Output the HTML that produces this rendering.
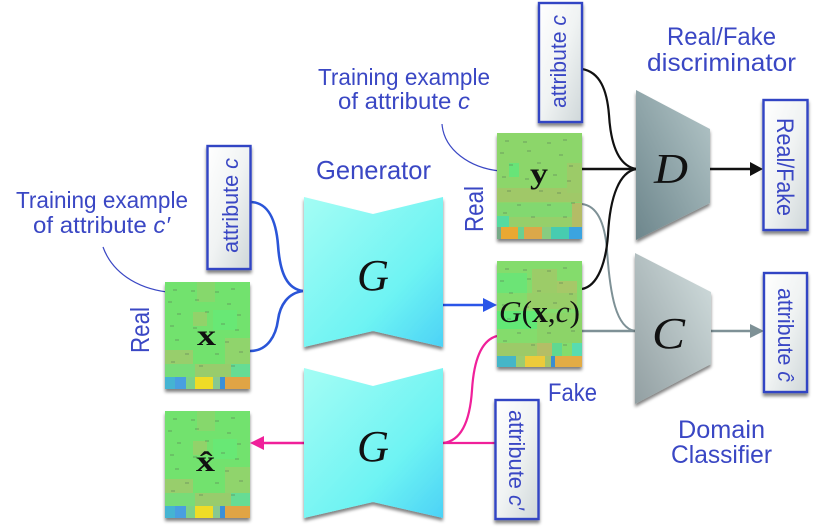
<!DOCTYPE html>
<html><head><meta charset="utf-8">
<style>
html,body{margin:0;padding:0;background:#fff;overflow:hidden}
svg{display:block;width:814px;height:530px;filter:blur(.35px)}
text{font-family:"Liberation Sans",sans-serif;fill:#3a47c4}
.t{font-size:23px}
.m{font-family:"Liberation Serif",serif;font-style:italic;fill:#111}
.b{font-family:"Liberation Serif",serif;font-weight:bold;fill:#111}
.r{font-size:22px}
</style></head><body>
<svg xmlns="http://www.w3.org/2000/svg" width="814" height="530" viewBox="0 0 814 530">
<defs>
<linearGradient id="gg" x1="0" y1="0" x2="1" y2="1"><stop offset="0" stop-color="#a4fdf4"/><stop offset=".65" stop-color="#6df3f3"/><stop offset="1" stop-color="#4cd2f6"/></linearGradient>
<linearGradient id="gd" x1="0" y1="1" x2="1" y2="0"><stop offset="0" stop-color="#6d868c"/><stop offset="1" stop-color="#b5c7c9"/></linearGradient>
<linearGradient id="gc" x1="0" y1="1" x2="1" y2="0"><stop offset="0" stop-color="#929fa2"/><stop offset="1" stop-color="#d3dfdf"/></linearGradient>
<linearGradient id="gb" x1="0" y1="0" x2="1" y2="1"><stop offset="0" stop-color="#fff"/><stop offset=".5" stop-color="#f0f3f3"/><stop offset="1" stop-color="#cfd7d9"/></linearGradient>
<filter id="s" x="-10%" y="-10%" width="120%" height="120%"><feGaussianBlur in="SourceAlpha" stdDeviation="1.6"/><feOffset dy="3"/><feComponentTransfer><feFuncA type="linear" slope=".5"/></feComponentTransfer><feMerge><feMergeNode/><feMergeNode in="SourceGraphic"/></feMerge></filter>
<g id="dash" stroke="#5a7a55" stroke-width="1" opacity=".6">
<path d="M8 8h4M26 9h4M50 10h4M66 7h4M3 20h4M30 18h4M62 22h4M12 32h4M40 30h4M72 33h4M5 44h4M28 46h4M56 42h4M70 48h4M10 58h4M42 58h4M60 60h4M20 72h4M50 72h4M74 70h4M6 80h4M34 84h4M66 84h4"/>
</g>
<g id="hx">
<rect width="85" height="107" fill="#72e26e"/>
<rect x="32" y="0" width="18" height="20" fill="#86d86c"/>
<rect x="28" y="30" width="14" height="14" fill="#92d26a"/><rect x="48" y="28" width="24" height="20" fill="#68e874"/>
<rect x="0" y="68" width="28" height="14" fill="#98ce6c"/><rect x="60" y="56" width="25" height="26" fill="#90d46c"/>
<rect x="0" y="82" width="30" height="13" fill="#78dc78"/><rect x="30" y="82" width="36" height="13" fill="#98cc6c"/>
<rect x="66" y="82" width="19" height="13" fill="#66dc94"/>
<rect x="0" y="95" width="85" height="12" fill="#e0a444"/>
<rect x="0" y="95" width="10" height="12" fill="#45b4d2"/><rect x="10" y="95" width="11" height="12" fill="#4a9fe0"/>
<rect x="21" y="95" width="9" height="12" fill="#7ed088"/><rect x="30" y="95" width="18" height="12" fill="#efdc28"/>
<rect x="48" y="95" width="7" height="12" fill="#88c890"/><rect x="55" y="95" width="5" height="12" fill="#3a90d8"/>
<use href="#dash"/>
</g>
<g id="hy">
<rect width="85" height="106" fill="#8cd66a"/>
<rect x="12" y="30" width="10" height="14" fill="#68e478"/><rect x="0" y="55" width="85" height="14" fill="#a0c868"/>
<rect x="0" y="70" width="85" height="14" fill="#82d870"/><rect x="70" y="30" width="15" height="30" fill="#9ccb68"/>
<rect x="0" y="84" width="85" height="10" fill="#96cf6a"/><rect x="0" y="83" width="12" height="11" fill="#55dba0"/>
<rect x="75" y="70" width="10" height="25" fill="#b4bc66"/>
<rect x="0" y="94" width="85" height="12" fill="#46ccb0"/>
<rect x="0" y="94" width="4" height="12" fill="#77aa88"/><rect x="4" y="94" width="17" height="12" fill="#eaa830"/>
<rect x="21" y="94" width="6" height="12" fill="#6bd090"/><rect x="27" y="94" width="18" height="12" fill="#dba848"/>
<rect x="45" y="94" width="9" height="12" fill="#88cc80"/>
<rect x="72" y="94" width="13" height="12" fill="#3aa4e0"/>
<use href="#dash"/>
</g>
<g id="hf">
<rect width="85" height="106" fill="#84dc6c"/>
<rect x="0" y="12" width="30" height="20" fill="#6ce476"/><rect x="35" y="8" width="25" height="24" fill="#9ccc68"/>
<rect x="60" y="20" width="20" height="14" fill="#a6c868"/><rect x="30" y="32" width="50" height="16" fill="#98ce68"/>
<rect x="0" y="50" width="40" height="18" fill="#62e876"/><rect x="40" y="52" width="45" height="30" fill="#8cd468"/>
<rect x="0" y="82" width="40" height="13" fill="#9cca68"/><rect x="40" y="82" width="20" height="13" fill="#b4be66"/>
<rect x="55" y="82" width="10" height="13" fill="#60d890"/><rect x="75" y="82" width="10" height="13" fill="#58dcb0"/>
<rect x="0" y="95" width="85" height="11" fill="#e2ac44"/>
<rect x="0" y="95" width="19" height="11" fill="#45b6c8"/><rect x="19" y="95" width="9" height="11" fill="#9ccc70"/>
<rect x="28" y="95" width="20" height="11" fill="#eccb3a"/><rect x="48" y="95" width="6" height="11" fill="#a6c468"/>
<rect x="54" y="95" width="4" height="11" fill="#3a8ed0"/>
<use href="#dash"/>
</g>
</defs>

<g fill="none">
<path d="M250 202C268 202 276 220 278 245C280 275 288 289 303 291" stroke="#2a55d8" stroke-width="2.6"/>
<path d="M250 351C268 351 276 335 278 320C280 305 288 293 303 291" stroke="#2a55d8" stroke-width="2.6"/>
<path d="M443 305H486" stroke="#2a55e8" stroke-width="2.6"/>
<path d="M582 204C598 206 605 225 607 250C610 295 616 328 635 331" stroke="#7e9196" stroke-width="2"/>
<path d="M582 331H635" stroke="#7e9196" stroke-width="2.4"/>
<path d="M711 331H752" stroke="#7e9196" stroke-width="2.6"/>
<path d="M582 69C600 72 607 90 609 115C611 148 620 166 636 169" stroke="#111" stroke-width="2.2"/>
<path d="M582 289C598 286 606 262 608 235C610 195 620 172 636 169" stroke="#111" stroke-width="2.2"/>
<path d="M582 169H636" stroke="#111" stroke-width="2.6"/>
<path d="M710 169H752" stroke="#111" stroke-width="2.6"/>
<path d="M443 443H495" stroke="#f0209a" stroke-width="2.2"/>
<path d="M304 443H262" stroke="#f0209a" stroke-width="2.6"/>
<path d="M443 443C462 441 470 420 472 390C474 358 482 340 497 336" stroke="#f0209a" stroke-width="2.2"/>
<path d="M103 247C112 272 136 288 167 292" stroke="#3a47c4" stroke-width="1.2"/>
<path d="M442 124C444 150 470 168 500 171" stroke="#3a47c4" stroke-width="1.2"/>
</g>
<path d="M497 305L483 298V312Z" fill="#2a55e8"/>
<path d="M764 331L750 324V338Z" fill="#7e9196"/>
<path d="M763 169L750 162V176Z" fill="#111"/>
<path d="M250 443L264 436V450Z" fill="#f0209a"/>

<path d="M304 197L373 214L443 197V347L373 331L304 347Z" fill="url(#gg)" filter="url(#s)"/>
<path d="M304 368L373 386L443 368V518L373 502L304 518Z" fill="url(#gg)" filter="url(#s)"/>
<path d="M636 90L710 129V203L636 240Z" fill="url(#gd)" filter="url(#s)"/>
<path d="M635 253L711 292V364L635 404Z" fill="url(#gc)" filter="url(#s)"/>

<g fill="url(#gb)" stroke="#3344c4" stroke-width="2.4" filter="url(#s)">
<rect x="207.500" y="146" width="43" height="123"/>
<rect x="539" y="3" width="43" height="119"/>
<rect x="764" y="273" width="43" height="119"/>
<rect x="495.500" y="400" width="43" height="119"/>
<rect x="763.500" y="100" width="44" height="130"/>
</g>

<g filter="url(#s)"><use href="#hx" x="165" y="282"/></g>
<g filter="url(#s)"><use href="#hx" x="165" y="411"/></g>
<g filter="url(#s)"><use href="#hy" x="497" y="133"/></g>
<g filter="url(#s)"><use href="#hf" x="497" y="261"/></g>

<text class="t" x="16" y="208" textLength="172" lengthAdjust="spacingAndGlyphs">Training example</text>
<text class="t" x="33" y="233" textLength="137" lengthAdjust="spacingAndGlyphs">of attribute <tspan font-style="italic">c′</tspan></text>
<text class="t" x="318" y="85" textLength="172" lengthAdjust="spacingAndGlyphs">Training example</text>
<text class="t" x="338" y="109" textLength="132" lengthAdjust="spacingAndGlyphs">of attribute <tspan font-style="italic">c</tspan></text>
<text x="316" y="179" font-size="26" textLength="115" lengthAdjust="spacingAndGlyphs">Generator</text>
<text x="667" y="45" font-size="25" textLength="109" lengthAdjust="spacingAndGlyphs">Real/Fake</text>
<text x="647" y="71" font-size="25" textLength="149" lengthAdjust="spacingAndGlyphs">discriminator</text>
<text x="548" y="401" font-size="25" textLength="49" lengthAdjust="spacingAndGlyphs">Fake</text>
<text x="678" y="438" font-size="25" textLength="87" lengthAdjust="spacingAndGlyphs">Domain</text>
<text x="671" y="463" font-size="25" textLength="101" lengthAdjust="spacingAndGlyphs">Classifier</text>
<text font-size="26" transform="translate(149 353) rotate(-90)" textLength="46" lengthAdjust="spacingAndGlyphs">Real</text>
<text font-size="26" transform="translate(483 232) rotate(-90)" textLength="46" lengthAdjust="spacingAndGlyphs">Real</text>

<text class="r" transform="translate(238 253) rotate(-90)" textLength="95" lengthAdjust="spacingAndGlyphs">attribute <tspan font-style="italic">c</tspan></text>
<text class="r" transform="translate(566 108) rotate(-90)" textLength="93" lengthAdjust="spacingAndGlyphs">attribute <tspan font-style="italic">c</tspan></text>
<text class="r" transform="translate(778 288) rotate(90)" textLength="94" lengthAdjust="spacingAndGlyphs">attribute <tspan font-style="italic">ĉ</tspan></text>
<text class="r" transform="translate(509 410) rotate(90)" textLength="100" lengthAdjust="spacingAndGlyphs">attribute <tspan font-style="italic">c′</tspan></text>
<text font-size="24" transform="translate(777 118) rotate(90)" textLength="98" lengthAdjust="spacingAndGlyphs">Real/Fake</text>

<text class="m" x="357" y="290" font-size="44" textLength="32" lengthAdjust="spacingAndGlyphs">G</text>
<text class="m" x="357" y="461" font-size="44" textLength="32" lengthAdjust="spacingAndGlyphs">G</text>
<text class="m" x="654" y="183" font-size="42" textLength="34" lengthAdjust="spacingAndGlyphs">D</text>
<text class="m" x="652" y="348" font-size="44" textLength="33" lengthAdjust="spacingAndGlyphs">C</text>
<text class="b" x="197" y="345" font-size="30" textLength="19" lengthAdjust="spacingAndGlyphs">x</text>
<text class="b" x="530" y="183" font-size="30" textLength="18" lengthAdjust="spacingAndGlyphs">y</text>
<text class="b" x="196" y="471" font-size="30" textLength="19" lengthAdjust="spacingAndGlyphs">x̂</text>
<text class="m" x="499" y="322" font-size="31" textLength="81" lengthAdjust="spacingAndGlyphs">G<tspan font-style="normal">(</tspan><tspan class="b" font-style="normal" style="font-weight:bold">x</tspan><tspan font-style="normal">,</tspan>c<tspan font-style="normal">)</tspan></text>
</svg>
</body></html>
